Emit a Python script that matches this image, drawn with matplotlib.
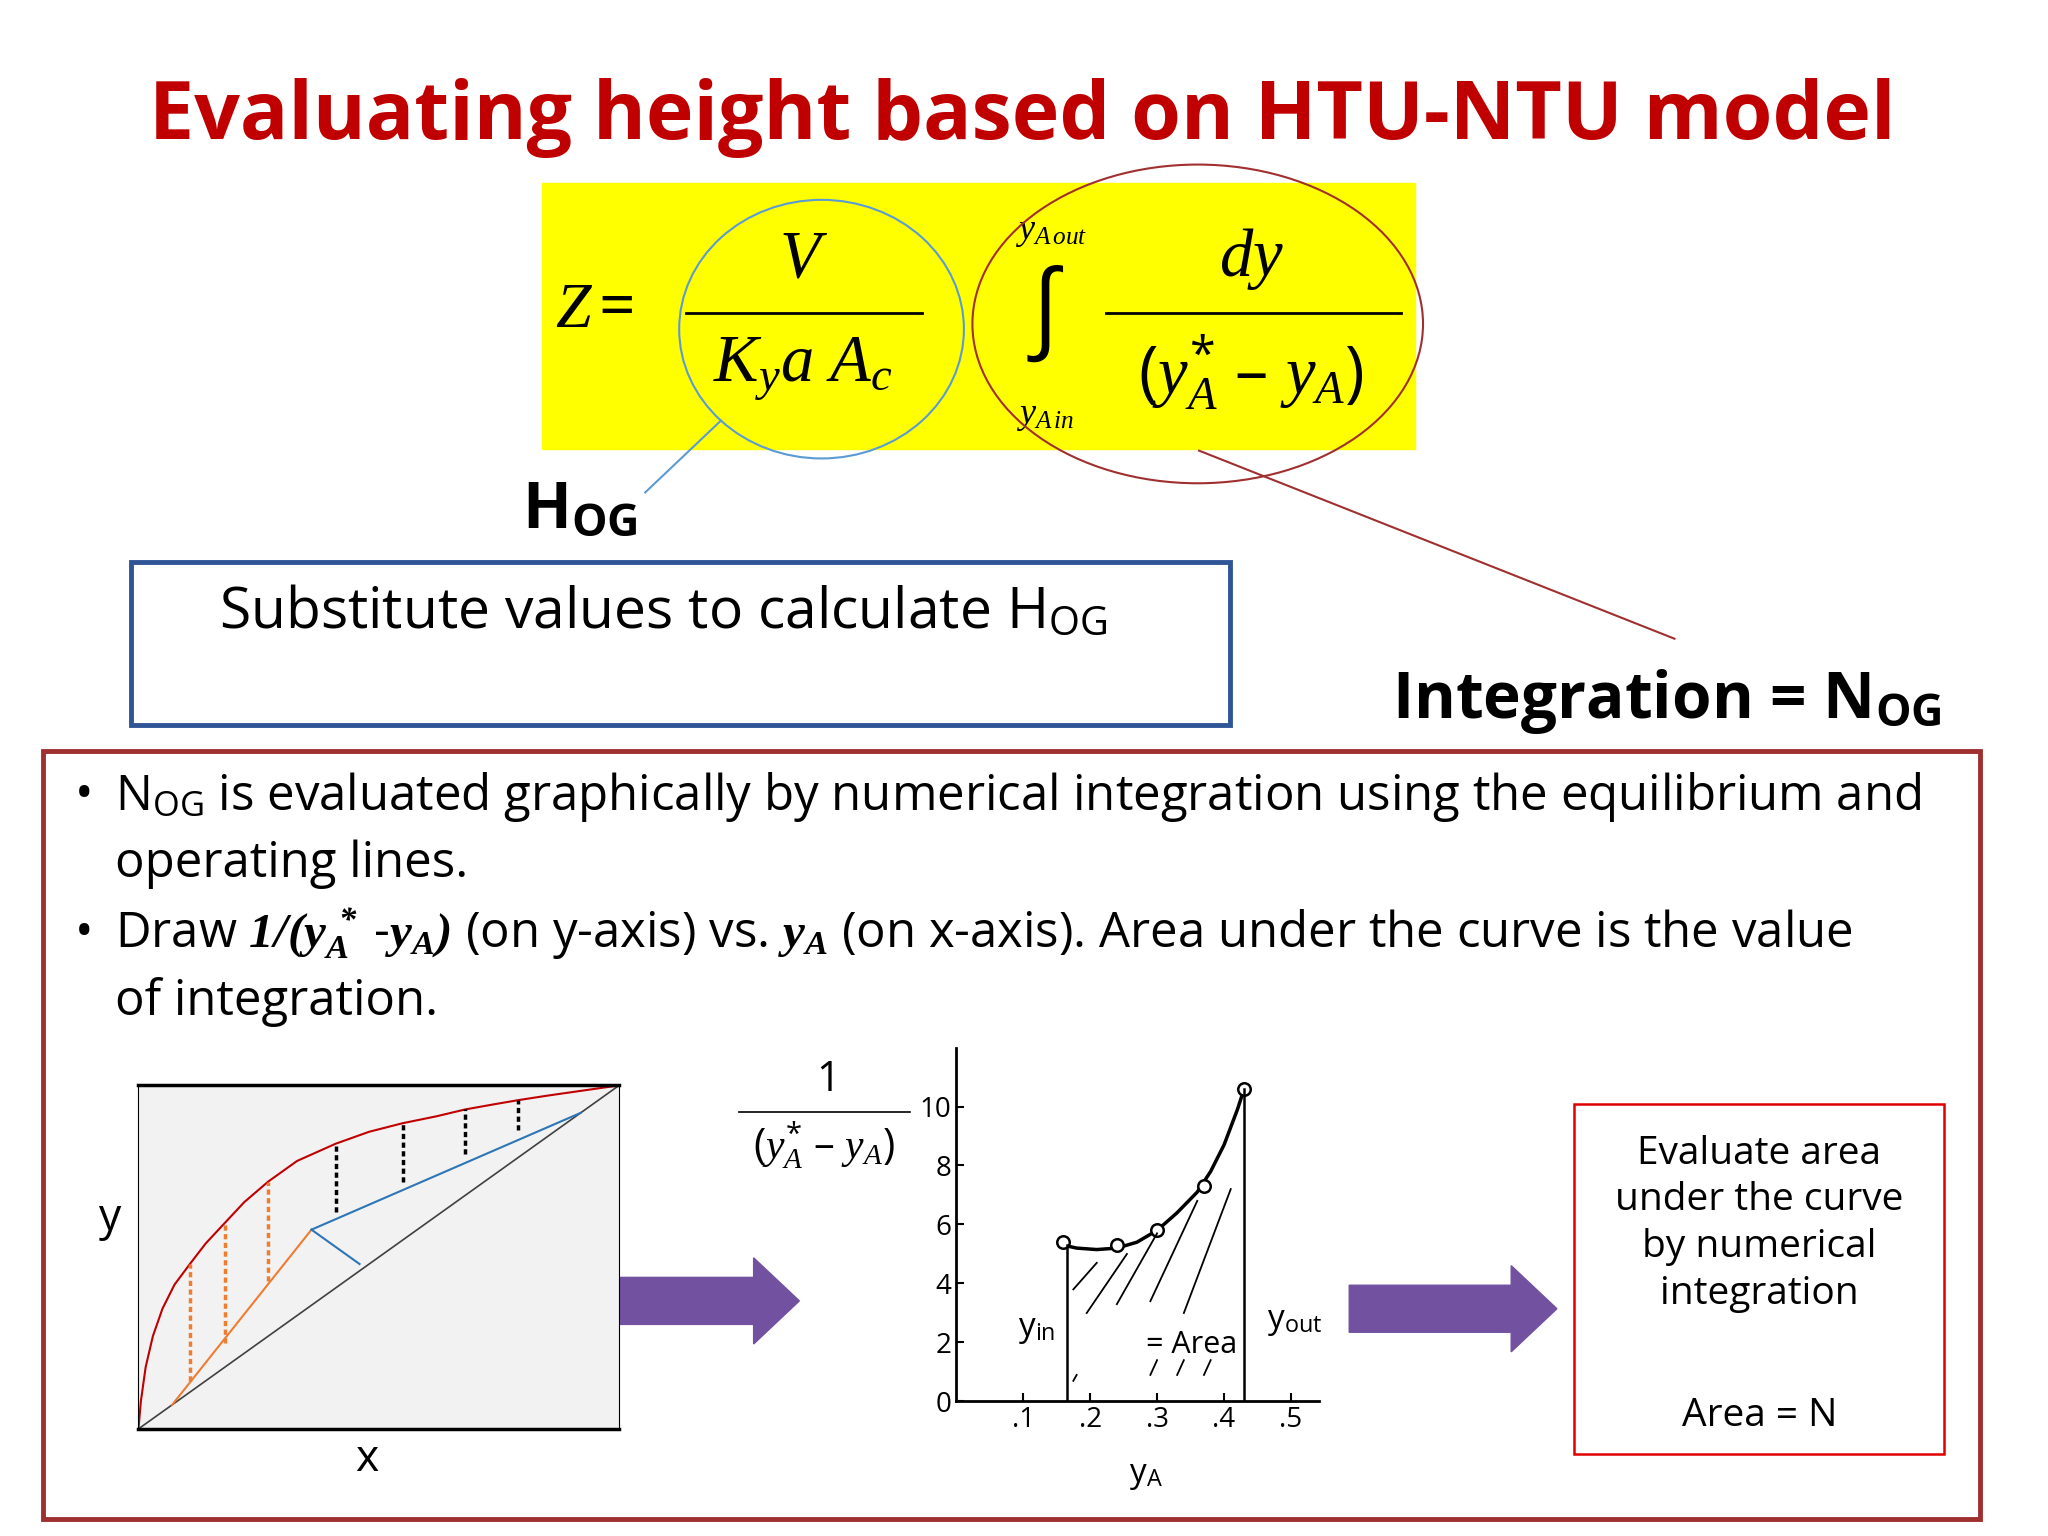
import matplotlib
matplotlib.use("Agg")
from matplotlib import pyplot as plt
from matplotlib.patches import Rectangle, Ellipse, Polygon

plt.rcParams['mathtext.fontset'] = 'custom'
plt.rcParams['mathtext.rm'] = 'Open Sans'
plt.rcParams['mathtext.it'] = 'Liberation Serif:italic'
plt.rcParams['mathtext.bf'] = 'Open Sans:bold'
plt.rcParams['mathtext.bfit'] = 'Liberation Serif:italic:bold'
plt.rcParams['font.family'] = ['Open Sans', 'DejaVu Sans']

W, H = 1568.0, 1176.0

# left sketch: equilibrium curve, operating lines, step verticals
eq_x = [0, 0.005, 0.015, 0.03, 0.05, 0.075, 0.107, 0.14, 0.18, 0.22, 0.27, 0.33, 0.41,
        0.48, 0.55, 0.62, 0.68, 0.74, 0.79, 0.85, 0.9, 0.95, 1.0]
eq_y = [0, 0.08, 0.18, 0.27, 0.35, 0.42, 0.48, 0.54, 0.60, 0.66, 0.72, 0.78, 0.83,
        0.865, 0.89, 0.91, 0.93, 0.945, 0.957, 0.97, 0.98, 0.99, 1.0]
op1_x = [0.07, 0.36]
op1_y = [0.07, 0.58]
op2_x = [0.36, 0.92]
op2_y = [0.58, 0.92]
perp_x = [0.36, 0.46]
perp_y = [0.58, 0.48]
orange_steps = [(0.107, 0.14, 0.48), (0.18, 0.25, 0.60), (0.27, 0.43, 0.72)]
black_steps = [(0.41, 0.63, 0.83), (0.55, 0.72, 0.89), (0.68, 0.80, 0.93), (0.79, 0.87, 0.957)]

# right plot: 1/(y*-y) vs yA
pts_x = [0.16, 0.24, 0.30, 0.37, 0.43]
pts_y = [5.4, 5.3, 5.8, 7.3, 10.6]
curve_x = [0.16, 0.18, 0.21, 0.24, 0.27, 0.30, 0.33, 0.36, 0.38, 0.40, 0.42, 0.43]
curve_y = [5.3, 5.2, 5.15, 5.2, 5.4, 5.8, 6.4, 7.1, 7.8, 8.7, 9.9, 10.6]
y_in, y_out = 0.165, 0.43
xticks = [0.1, 0.2, 0.3, 0.4, 0.5]
xtick_labels = ['.1', '.2', '.3', '.4', '.5']
yticks = [0, 2, 4, 6, 8, 10]
hatch_start_x = [0.175, 0.195, 0.24, 0.29, 0.34, 0.175, 0.29, 0.33, 0.37]
hatch_start_y = [3.8, 3.0, 3.3, 3.4, 3.0, 0.7, 0.9, 0.9, 0.9]
hatch_end_x = [0.21, 0.255, 0.30, 0.36, 0.41, 0.18, 0.30, 0.34, 0.38]
hatch_end_y = [4.7, 5.0, 5.7, 6.8, 7.2, 0.9, 1.4, 1.4, 1.4]

fig = plt.figure(figsize=(20.48, 15.36), dpi=100)
bg = fig.add_axes([0, 0, 1, 1])
bg.set_xlim(0, W)
bg.set_ylim(H, 0)
bg.axis('off')


def rect_axes(x0, y0, x1, y1):
    return fig.add_axes([x0 / W, 1 - y1 / H, (x1 - x0) / W, (y1 - y0) / H])


# title
bg.text(783, 90, 'Evaluating height based on HTU-NTU model', color='#C00000',
        fontsize=58, fontweight='bold', ha='center', va='center')

# formula
bg.add_patch(Rectangle((415, 140), 668, 204, color='#FFFF00', zorder=1))
bg.text(425, 237, r'$Z\,$=', fontsize=46, va='center', zorder=3)
bg.text(615, 198, r'$V$', fontsize=48, ha='center', va='center', zorder=3)
bg.plot([525, 706], [240, 240], color='black', lw=2, zorder=3)
bg.text(615, 283, r'$K_y a\ A_c$', fontsize=48, ha='center', va='center', zorder=3)
bg.text(800, 240, r'$\int$', fontsize=70, ha='center', va='center', zorder=3)
bg.text(805, 177, r'$y_{A\,out}$', fontsize=26, ha='center', va='center', zorder=3)
bg.text(800, 318, r'$y_{A\,in}$', fontsize=26, ha='center', va='center', zorder=3)
bg.text(958, 198, r'$dy$', fontsize=48, ha='center', va='center', zorder=3)
bg.plot([847, 1073], [240, 240], color='black', lw=2, zorder=3)
bg.text(958, 285, r'($y_A^{*}$ – $y_A$)', fontsize=48, ha='center', va='center', zorder=3)
bg.add_patch(Ellipse((629, 252), 218, 198, fill=False, ec='#5B9BD5', lw=1.5, zorder=4))
bg.add_patch(Ellipse((917, 248), 345, 244, fill=False, ec='#A0302F', lw=1.5, zorder=4))
bg.plot([552, 494], [322, 377], color='#5B9BD5', lw=1.5)
bg.plot([918, 1282], [345, 489], color='#A0302F', lw=1.5)
bg.text(400, 392, r'H$_{\mathbf{OG}}$', fontsize=46, fontweight='bold', va='center')

# HOG box
bg.add_patch(Rectangle((100, 430), 842, 125, fill=False, ec='#2F5597', lw=3.5))
bg.text(168, 470, r'Substitute values to calculate H$_{\mathrm{OG}}$', fontsize=41, va='center')
bg.text(1066, 537, r'Integration = N$_{\mathbf{OG}}$', fontsize=46, fontweight='bold', va='center')

# big box with bullets
bg.add_patch(Rectangle((33, 575), 1483, 588, fill=False, ec='#A0302F', lw=3.5))
fs = 35.4
bg.text(57, 610, u'\u2022', fontsize=fs, va='center')
bg.text(88, 610, r'N$_{\mathrm{OG}}$ is evaluated graphically by numerical integration using the equilibrium and',
        fontsize=fs, va='center')
bg.text(88, 662, 'operating lines.', fontsize=fs, va='center')
bg.text(57, 715, u'\u2022', fontsize=fs, va='center')
bg.text(88, 715, r'Draw $\mathbfit{1/(y_A^{\ *}\ \text{-}y_A)}$ (on y-axis) vs. $\mathbfit{y_A}$ (on x-axis). Area under the curve is the value',
        fontsize=fs, va='center')
bg.text(88, 767, 'of integration.', fontsize=fs, va='center')

# left sketch
ax1 = rect_axes(106, 831, 474, 1094)
ax1.set_facecolor('#F2F2F2')
ax1.plot([0, 1], [0, 1], color='#404040', lw=1.2)
ax1.plot(eq_x, eq_y, color='#C00000', lw=1.5)
ax1.plot(op1_x, op1_y, color='#ED7D31', lw=1.5)
ax1.plot(op2_x, op2_y, color='#2E75B6', lw=1.5)
ax1.plot(perp_x, perp_y, color='#2E75B6', lw=1.5)
for x, y0, y1 in orange_steps:
    ax1.plot([x, x], [y0, y1], color='#ED7D31', lw=2.5, ls=(0, (1.5, 1)))
for x, y0, y1 in black_steps:
    ax1.plot([x, x], [y0, y1], color='black', lw=2.5, ls=(0, (1.5, 1)))
ax1.set_xlim(0, 1)
ax1.set_ylim(0, 1)
ax1.set_xticks([])
ax1.set_yticks([])
for s in ['top', 'bottom']:
    ax1.spines[s].set_linewidth(2.5)
bg.text(84, 933, 'y', fontsize=32, ha='center', va='center')
bg.text(281, 1118, 'x', fontsize=32, ha='center', va='center')

# arrows
for x0, x1, yc in [(453, 612, 996), (1033, 1192, 1002)]:
    bg.add_patch(Polygon([(x0, yc - 18), (x1 - 35, yc - 18), (x1 - 35, yc - 33), (x1, yc),
                          (x1 - 35, yc + 33), (x1 - 35, yc + 18), (x0, yc + 18)],
                         closed=True, color='#7151A0', zorder=2))

# right plot
ax2 = rect_axes(732, 802, 1010, 1073)
ax2.set_xlim(0, 0.542)
ax2.set_ylim(0, 12)
ax2.plot(curve_x, curve_y, color='black', lw=2.5)
ax2.plot(pts_x, pts_y, 'o', mfc='white', mec='black', ms=9, mew=1.8)
ax2.plot([y_in, y_in], [0, 5.3], color='black', lw=1.8)
ax2.plot([y_out, y_out], [0, 10.6], color='black', lw=1.8)
for a, b, c, d in zip(hatch_start_x, hatch_start_y, hatch_end_x, hatch_end_y):
    ax2.plot([a, c], [b, d], color='black', lw=1.3)
ax2.spines['top'].set_visible(False)
ax2.spines['right'].set_visible(False)
ax2.spines['left'].set_linewidth(2)
ax2.spines['bottom'].set_linewidth(2)
ax2.set_xticks(xticks)
ax2.set_xticklabels(xtick_labels, fontsize=20)
ax2.set_yticks(yticks)
ax2.set_yticklabels([str(t) for t in yticks], fontsize=20)
ax2.tick_params(direction='in', length=6, width=1.5)
ax2.patch.set_alpha(0)
bg.text(794, 1018, r'y$_{\mathrm{in}}$', fontsize=24, ha='center', va='center')
bg.text(991, 1012, r'y$_{\mathrm{out}}$', fontsize=24, ha='center', va='center')
bg.text(912, 1030, '= Area', fontsize=22, ha='center', va='center')
bg.text(877, 1130, r'y$_{\mathrm{A}}$', fontsize=24, ha='center', va='center')
bg.text(631, 827, r'$1$', fontsize=30, ha='center', va='center')
bg.plot([566, 697], [851, 851], color='black', lw=1.2)
bg.text(631, 877, r'($y_A^{*}$ – $y_A$)', fontsize=30, ha='center', va='center')

# right text box
bg.add_patch(Rectangle((1205, 845), 283, 268, fill=False, ec='#E00000', lw=1.8))
bg.text(1347, 937, 'Evaluate area\nunder the curve\nby numerical\nintegration',
        fontsize=28, ha='center', va='center', linespacing=1.3)
bg.text(1347, 1084, 'Area = N', fontsize=28, ha='center', va='center')

fig.savefig('out.png', dpi=100)
